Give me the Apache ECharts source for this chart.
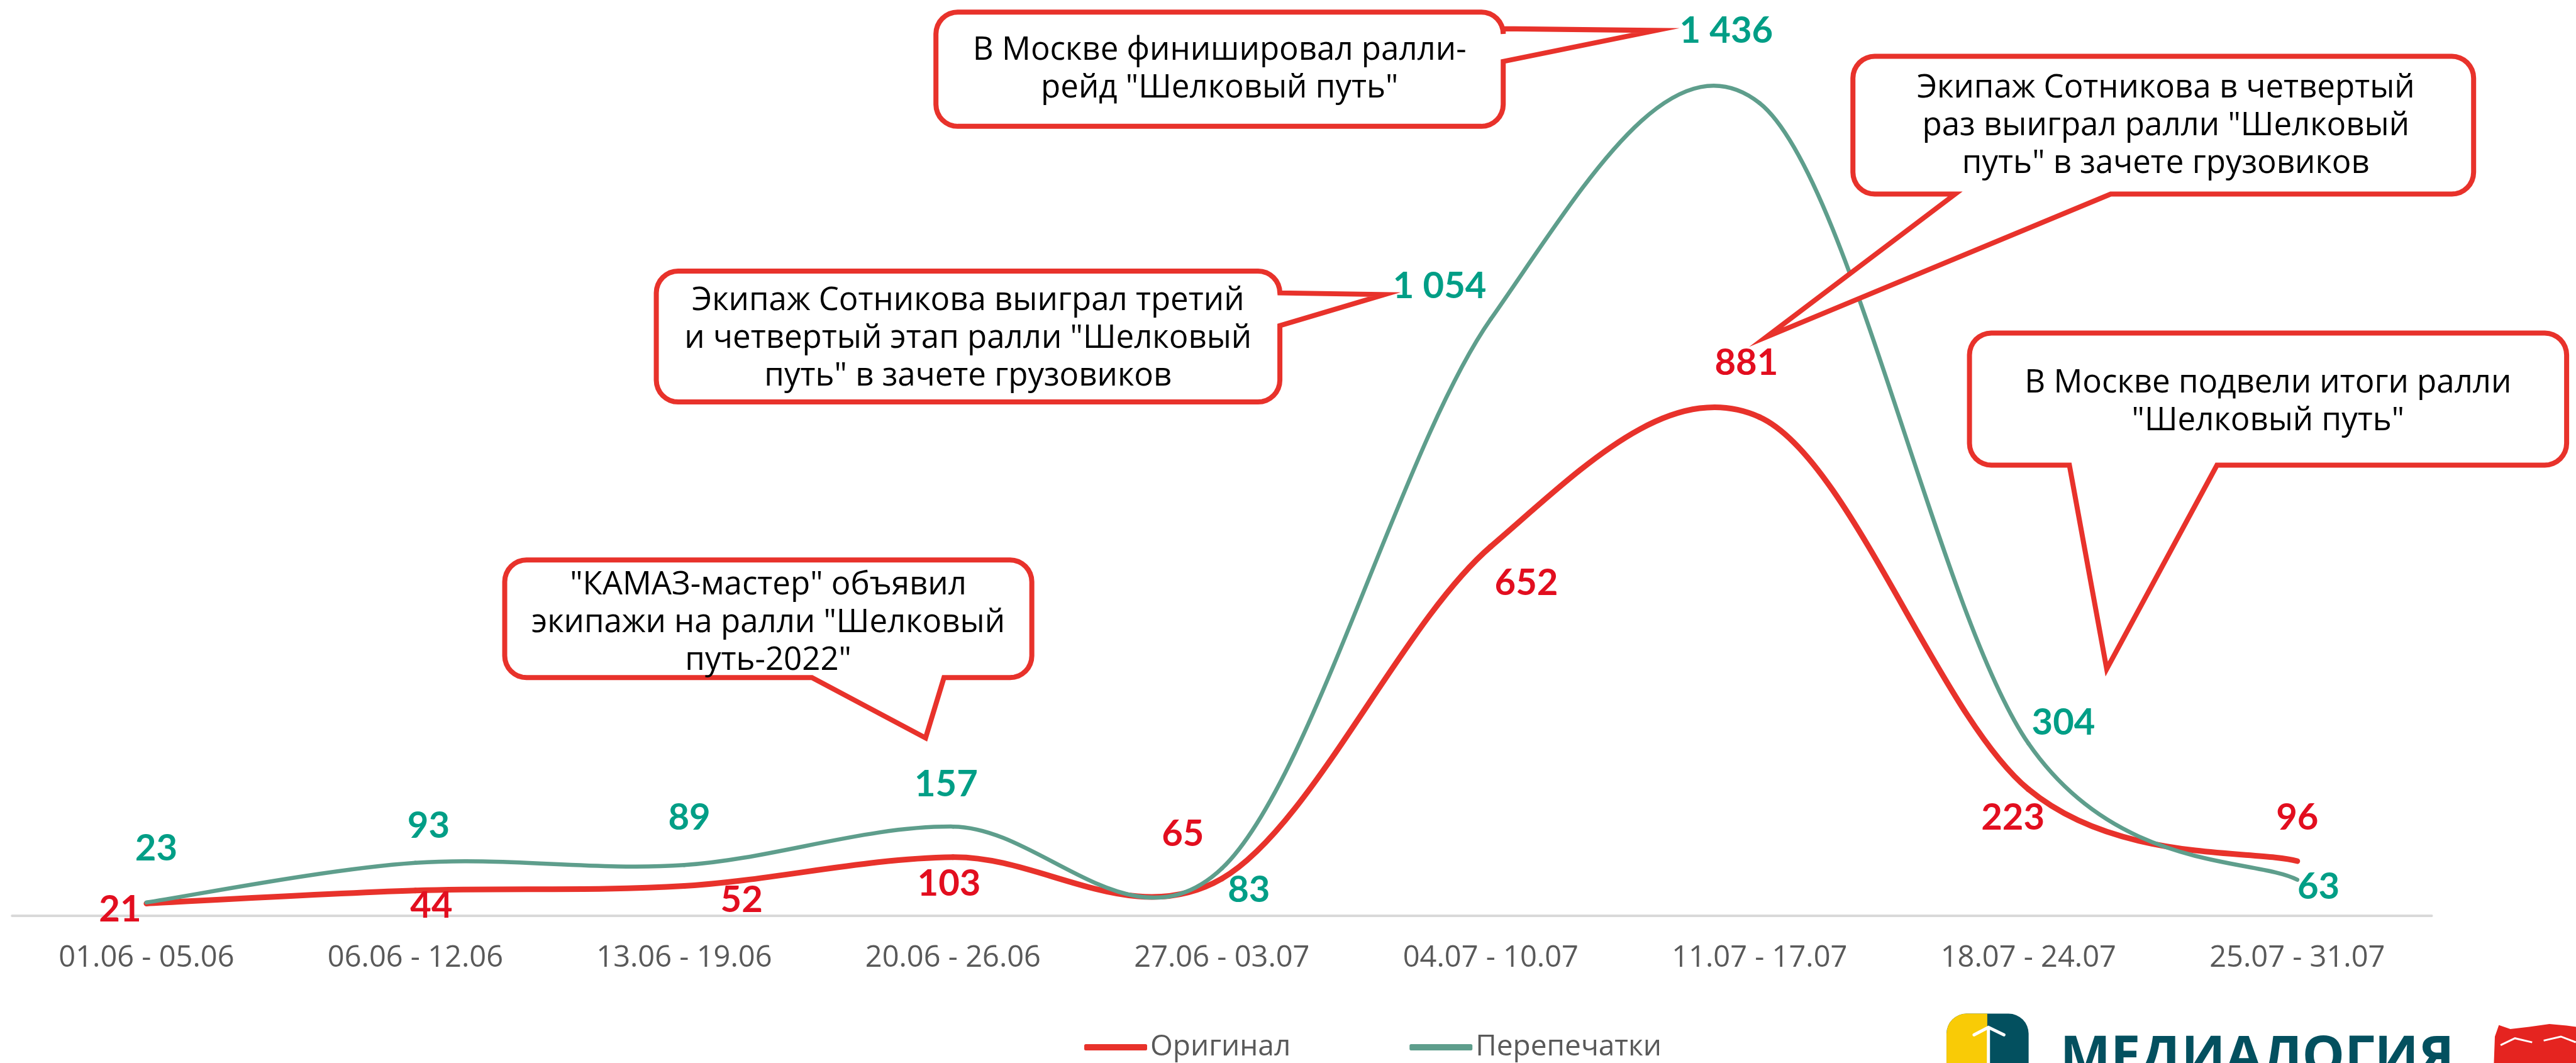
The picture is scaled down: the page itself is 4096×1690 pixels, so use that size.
<!DOCTYPE html>
<html>
<head>
<meta charset="utf-8">
<script src="https://cdn.jsdelivr.net/npm/echarts@6/dist/echarts.min.js"></script>
<style>
html, body { margin: 0; padding: 0; background: #fff; }
#chart { width: 4096px; height: 1690px; }
</style>
</head>
<body>
<div id="chart"></div>
<script>
const S = 0.913;   // reference px -> window px
const K = 0.985;   // reference px per unit of value

const weeks = ['01.06 - 05.06', '06.06 - 12.06', '13.06 - 19.06', '20.06 - 26.06', '27.06 - 03.07',
               '04.07 - 10.07', '11.07 - 17.07', '18.07 - 24.07', '25.07 - 31.07'];
const original = [21, 44, 52, 103, 65, 652, 881, 223, 96];
const reprints = [23, 93, 89, 157, 83, 1054, 1436, 304, 63];
const seriesNames = ['Оригинал', 'Перепечатки'];

const notes = [
    ['В Москве финишировал ралли-', 'рейд "Шелковый путь"'],
    ['Экипаж Сотникова выиграл третий', 'и четвертый этап ралли "Шелковый', 'путь" в зачете грузовиков'],
    ['Экипаж Сотникова в четвертый', 'раз выиграл ралли "Шелковый', 'путь" в зачете грузовиков'],
    ['В Москве подвели итоги ралли', '"Шелковый путь"'],
    ['"КАМАЗ-мастер" объявил', 'экипажи на ралли "Шелковый', 'путь-2022"']
];

// label nudges from the point, reference px
const originalShift = [[-46, 11], [28, 27], [100, 25], [-7, 47], [-68, -77], [62, 64], [-23, -94], [-27, 50], [0, -75]];
const reprintShift = [[17, -94], [23, -64], [9, -82], [-12, -73], [47, 38], [-89, -57], [-58, -125], [61, -36], [37, 13]];

// callout boxes, reference px
const boxes = [
    { x0: 1630, y0: 21, x1: 2618, y1: 220, side: 'right', a: 50, b: 107, tip: [2884, 53], tx: 2124, ty: 121 },
    { x0: 1143, y0: 472, x1: 2229, y1: 700, side: 'right', a: 510, b: 567, tip: [2411, 513], tx: 1686, ty: 590 },
    { x0: 3227, y0: 98, x1: 4308, y1: 338, side: 'bottom', a: 3405, b: 3676, tip: [3076, 587], tx: 3772, ty: 220 },
    { x0: 3430, y0: 580, x1: 4470, y1: 810, side: 'bottom', a: 3604, b: 3861, tip: [3669, 1165], tx: 3950, ty: 700 },
    { x0: 879, y0: 975, x1: 1797, y1: 1180, side: 'bottom', a: 1414, b: 1644, tip: [1612, 1285], tx: 1338, ty: 1085 }
];

function fmt(v) {
    return String(v).replace(/\B(?=(\d{3})+(?!\d))/g, ' ');
}

function bubble(b) {
    const pts = [];
    const r = 38;
    function arc(cx, cy, a0, a1) {
        for (let k = 0; k <= 8; k++) {
            const t = (a0 + (a1 - a0) * k / 8) * Math.PI / 180;
            pts.push([cx + r * Math.cos(t), cy + r * Math.sin(t)]);
        }
    }
    arc(b.x0 + r, b.y0 + r, 180, 270);
    arc(b.x1 - r, b.y0 + r, 270, 360);
    if (b.side === 'right') pts.push([b.x1, b.a], b.tip, [b.x1, b.b]);
    arc(b.x1 - r, b.y1 - r, 0, 90);
    if (b.side === 'bottom') pts.push([b.b, b.y1], b.tip, [b.a, b.y1]);
    arc(b.x0 + r, b.y1 - r, 90, 180);
    return {
        type: 'polygon',
        z: 10,
        shape: { points: pts.map(function (p) { return [p[0] * S, p[1] * S]; }) },
        style: { fill: '#fff', stroke: '#E8322B', lineWidth: 8, lineJoin: 'miter' }
    };
}

// Excel-like smoothed line: one bezier segment per point (catmull-rom, /6)
function smoothLine(shift, lineColor, lineWidth, textColor) {
    return function (params, api) {
        const i = params.dataIndexInside;
        const n = params.dataInsideLength;
        const at = function (j) {
            j = Math.max(0, Math.min(n - 1, j));
            return api.coord([api.value(0, j), api.value(1, j)]);
        };
        const p0 = at(i - 1), p1 = at(i), p2 = at(i + 1), p3 = at(i + 2);
        const children = [];
        if (i < n - 1) {
            children.push({
                type: 'bezierCurve',
                shape: {
                    x1: p1[0], y1: p1[1], x2: p2[0], y2: p2[1],
                    cpx1: p1[0] + (p2[0] - p0[0]) / 6, cpy1: p1[1] + (p2[1] - p0[1]) / 6,
                    cpx2: p2[0] - (p3[0] - p1[0]) / 6, cpy2: p2[1] - (p3[1] - p1[1]) / 6
                },
                style: { stroke: lineColor, lineWidth: lineWidth, fill: null, lineCap: 'round' }
            });
        }
        children.push({
            type: 'text',
            z2: 10,
            style: {
                text: fmt(api.value(1)),
                x: p1[0] + shift[i][0] * S,
                y: p1[1] + shift[i][1] * S,
                align: 'center',
                verticalAlign: 'middle',
                fill: textColor,
                fontFamily: 'Lato',
                fontWeight: 'bold',
                fontSize: 58
            }
        });
        return { type: 'group', children: children };
    };
}

const graphics = [];
boxes.forEach(function (b, i) {
    graphics.push(bubble(b));
    graphics.push({
        type: 'text',
        z: 11,
        style: {
            text: notes[i].join('\n'),
            x: b.tx * S,
            y: b.ty * S,
            align: 'center',
            verticalAlign: 'middle',
            fontSize: 51,
            fontFamily: 'Open Sans',
            lineHeight: 60,
            fill: '#000'
        }
    });
});

// logo
graphics.push(
    { type: 'rect', z: 5, shape: { x: 3390 * S, y: 1765 * S, width: 143 * S, height: 120, r: [32, 32, 0, 0] }, style: { fill: '#03505F' } },
    { type: 'rect', z: 5, shape: { x: 3390 * S, y: 1765 * S, width: 71 * S, height: 120, r: [32, 0, 0, 0] }, style: { fill: '#F9CB06' } },
    { type: 'polyline', z: 6, shape: { points: [[3438 * S, 1802 * S], [3463 * S, 1789 * S], [3490 * S, 1802 * S]] }, style: { stroke: '#fff', lineWidth: 5, lineCap: 'round', fill: null } },
    { type: 'line', z: 6, shape: { x1: 3463 * S, y1: 1789 * S, x2: 3463 * S, y2: 1860 * S }, style: { stroke: '#fff', lineWidth: 5 } },
    { type: 'text', z: 5, style: { text: 'МЕДИАЛОГИЯ', x: 3588 * S, y: 1640, fontSize: 85, fontWeight: 'bold', fontFamily: 'Open Sans', fill: '#03505F', verticalAlign: 'top' } },
    { type: 'polygon', z: 5, shape: { points: [[4343 * S, 1860 * S], [4345 * S, 1805 * S], [4352 * S, 1785 * S], [4372 * S, 1792 * S], [4405 * S, 1788 * S], [4440 * S, 1783 * S], [4470 * S, 1786 * S], [4500 * S, 1790 * S], [4500 * S, 1860 * S]] }, style: { fill: '#E52420' } },
    { type: 'polyline', z: 6, shape: { points: [[4355 * S, 1820 * S], [4380 * S, 1808 * S], [4410 * S, 1815 * S]] }, style: { stroke: '#fff', lineWidth: 3, fill: null } },
    { type: 'polyline', z: 6, shape: { points: [[4430 * S, 1812 * S], [4460 * S, 1805 * S], [4486 * S, 1815 * S]] }, style: { stroke: '#fff', lineWidth: 3, fill: null } }
);

const option = {
    animation: false,
    backgroundColor: '#fff',
    color: ['#E8322B', '#5E9E8C'],
    grid: {
        left: 21 * S,
        right: 4096 - 4235 * S,
        top: 1594 * S - 1500 * K * S,
        bottom: 1690 - 1594 * S,
        outerBoundsMode: 'none'
    },
    legend: {
        data: seriesNames,
        left: 1719,
        top: 1637,
        icon: 'roundRect',
        itemWidth: 100,
        itemHeight: 10,
        itemGap: 189,
        textStyle: { fontFamily: 'Open Sans', fontSize: 46, color: '#595959' }
    },
    xAxis: {
        type: 'category',
        data: weeks,
        boundaryGap: true,
        axisLine: { lineStyle: { color: '#D9D9D9', width: 4 } },
        axisTick: { show: false },
        axisLabel: { interval: 0, margin: 45, fontFamily: 'Open Sans', fontSize: 47, color: '#595959' },
        splitLine: { show: false }
    },
    yAxis: {
        type: 'value',
        min: 0,
        max: 1500,
        show: false,
        splitLine: { show: false }
    },
    series: [
        {
            name: seriesNames[0],
            type: 'custom',
            data: original.map(function (v, i) { return [i, v]; }),
            encode: { x: 0, y: 1 },
            itemStyle: { color: '#E8322B' },
            renderItem: smoothLine(originalShift, '#E8322B', 9, '#E20E1F')
        },
        {
            name: seriesNames[1],
            type: 'custom',
            data: reprints.map(function (v, i) { return [i, v]; }),
            encode: { x: 0, y: 1 },
            itemStyle: { color: '#5E9E8C' },
            renderItem: smoothLine(reprintShift, '#5E9E8C', 6.5, '#009E86')
        }
    ],
    graphic: graphics
};

const chart = echarts.init(document.getElementById('chart'));
chart.setOption(option);
</script>
</body>
</html>
